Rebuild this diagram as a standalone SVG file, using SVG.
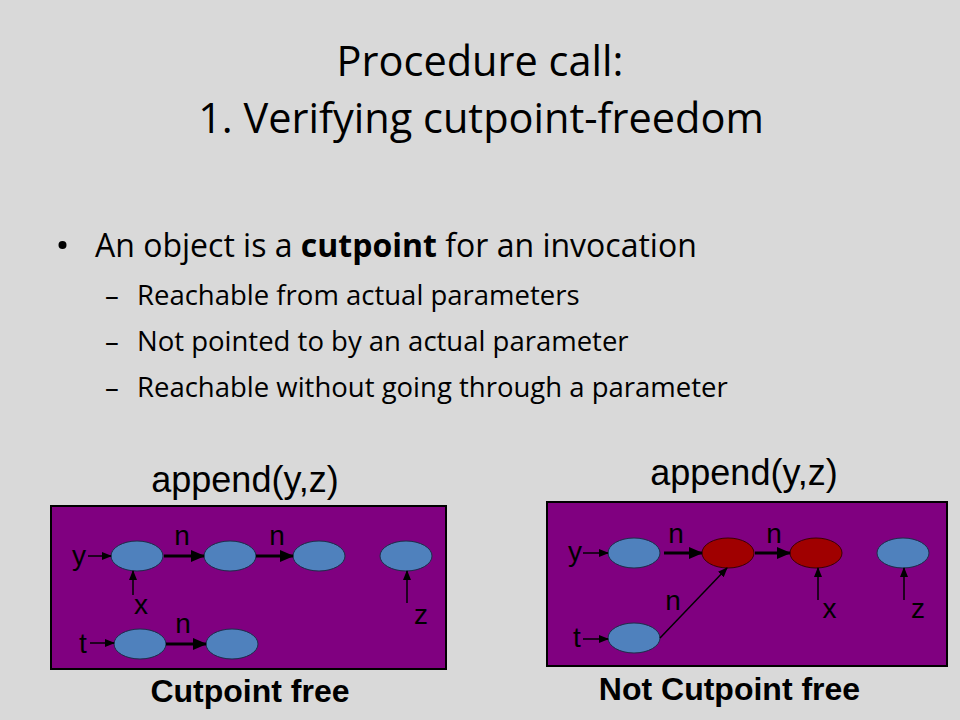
<svg xmlns="http://www.w3.org/2000/svg" width="960" height="720" viewBox="0 0 960 720">
<defs>
<style>
.title{font-family:"Open Sans","Noto Sans",sans-serif;font-size:41.5px;fill:#000;text-anchor:middle}
.b1{font-family:"Open Sans","Noto Sans",sans-serif;font-size:32px;fill:#000}
.b2{font-family:"Open Sans","Noto Sans",sans-serif;font-size:27.5px;fill:#000}
.lab{font-family:"Liberation Sans",Arial,sans-serif;font-size:28px;fill:#000;text-anchor:middle}
.cap{font-family:"Liberation Sans",Arial,sans-serif;font-size:36px;fill:#000;text-anchor:middle}
.capb{font-family:"Liberation Sans",Arial,sans-serif;font-size:32px;font-weight:bold;fill:#000;text-anchor:middle}
.panel{fill:#800080;stroke:#000;stroke-width:2}
.obj{fill:#4f81bd;stroke:#1c2e4a;stroke-width:1}
.cut{fill:#a00000;stroke:#3a0000;stroke-width:1}
.thick{stroke:#000;stroke-width:3;fill:none;marker-end:url(#ah)}
.thin{stroke:#000;stroke-width:1.5;fill:none;marker-end:url(#as)}
</style>
<marker id="ah" markerUnits="userSpaceOnUse" markerWidth="14" markerHeight="12" refX="13" refY="6" orient="auto">
<path d="M0,0 L14,6 L0,12 z" fill="#000"/>
</marker>
<marker id="as" markerUnits="userSpaceOnUse" markerWidth="10" markerHeight="8" refX="9" refY="4" orient="auto">
<path d="M0,0 L10,4 L0,8 z" fill="#000"/>
</marker>
</defs>
<rect width="960" height="720" fill="#d9d9d9"/>

<g id="title">
<text class="title" x="480" y="76">Procedure call:</text>
<text class="title" x="481" y="133">1. Verifying cutpoint-freedom</text>
</g>

<g id="bullets">
<circle cx="62.5" cy="245" r="4" fill="#000"/>
<text class="b1" x="95" y="257">An object is a <tspan font-weight="bold">cutpoint</tspan> for an invocation</text>
<text class="b2" x="105" y="305">–</text>
<text class="b2" x="137" y="305">Reachable from actual parameters</text>
<text class="b2" x="105" y="351">–</text>
<text class="b2" x="137" y="351">Not pointed to by an actual parameter</text>
<text class="b2" x="105" y="397">–</text>
<text class="b2" x="137" y="397">Reachable without going through a parameter</text>
</g>

<g id="left-panel">
<text class="cap" x="245" y="492">append(y,z)</text>
<rect class="panel" x="51" y="506" width="395" height="163"/>
<text class="capb" x="250" y="702">Cutpoint free</text>
</g>
<g id="L1"><ellipse class="obj" cx="137" cy="556" rx="26" ry="15"/></g>
<g id="L2"><ellipse class="obj" cx="230" cy="556" rx="26" ry="15"/></g>
<g id="L3"><ellipse class="obj" cx="319" cy="556" rx="26" ry="15"/></g>
<g id="L4"><ellipse class="obj" cx="406" cy="556" rx="26" ry="15"/></g>
<g id="L5"><ellipse class="obj" cx="140" cy="644" rx="26" ry="15"/></g>
<g id="L6"><ellipse class="obj" cx="232" cy="644" rx="26" ry="15"/></g>
<g id="left-labels">
<text class="lab" x="79" y="565">y</text>
<text class="lab" x="182" y="545">n</text>
<text class="lab" x="277" y="545">n</text>
<text class="lab" x="141" y="614">x</text>
<text class="lab" x="421" y="624">z</text>
<text class="lab" x="83" y="653">t</text>
<text class="lab" x="183" y="633">n</text>
</g>

<g id="right-panel">
<text class="cap" x="744" y="485">append(y,z)</text>
<rect class="panel" x="547" y="502" width="400" height="164"/>
<text class="capb" x="729.5" y="700">Not Cutpoint free</text>
</g>
<g id="R1"><ellipse class="obj" cx="634" cy="553" rx="26" ry="15"/></g>
<g id="R2"><ellipse class="cut" cx="728" cy="553" rx="26" ry="15"/></g>
<g id="R3"><ellipse class="cut" cx="816" cy="553" rx="26" ry="15"/></g>
<g id="R4"><ellipse class="obj" cx="903" cy="553" rx="26" ry="15"/></g>
<g id="R5"><ellipse class="obj" cx="634" cy="638" rx="26" ry="15"/></g>
<g id="right-labels">
<text class="lab" x="575" y="561">y</text>
<text class="lab" x="676" y="543">n</text>
<text class="lab" x="774" y="543">n</text>
<text class="lab" x="673" y="610">n</text>
<text class="lab" x="829.5" y="618">x</text>
<text class="lab" x="918" y="618">z</text>
<text class="lab" x="577" y="647">t</text>
</g>

<g id="connectors">
<line class="thin" x1="88" y1="556" x2="111" y2="556"/>
<line class="thick" x1="164" y1="556" x2="204" y2="556"/>
<line class="thick" x1="256" y1="556" x2="293" y2="556"/>
<line class="thin" x1="133" y1="595" x2="133" y2="571"/>
<line class="thin" x1="407" y1="603" x2="407" y2="571"/>
<line class="thin" x1="90" y1="643" x2="114" y2="643"/>
<line class="thick" x1="166" y1="644" x2="206" y2="644"/>

<line class="thin" x1="583" y1="553" x2="608" y2="553"/>
<line class="thick" x1="664" y1="553" x2="702" y2="553"/>
<line class="thick" x1="755" y1="553" x2="790" y2="553"/>
<line class="thin" x1="660" y1="638" x2="727" y2="568"/>
<line class="thin" x1="818" y1="600" x2="818" y2="568"/>
<line class="thin" x1="904" y1="600" x2="904" y2="568"/>
<line class="thin" x1="583" y1="639" x2="608" y2="639"/>
</g>
</svg>
